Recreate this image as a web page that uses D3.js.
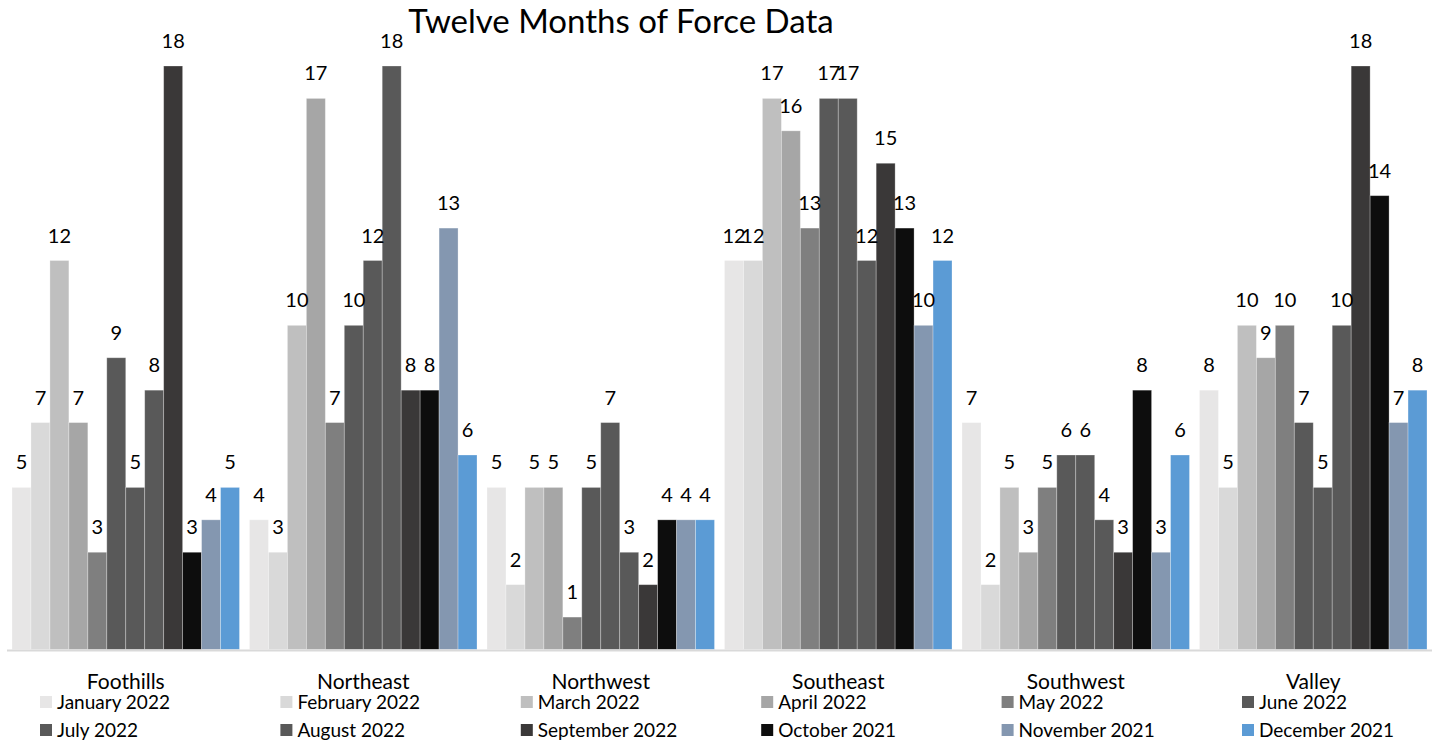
<!DOCTYPE html>
<html>
<head>
<meta charset="utf-8">
<script src="https://cdn.jsdelivr.net/npm/d3@7"></script>
<style>
  body { margin: 0; background: #fff; }
  text { font-family: Lato, "Open Sans", sans-serif; fill: #000; }
</style>
</head>
<body>
<svg id="chart" width="1434" height="744"></svg>
<script>
// chart data
var regions = ["Foothills", "Northeast", "Northwest", "Southeast", "Southwest", "Valley"];
var months = ["January 2022", "February 2022", "March 2022", "April 2022", "May 2022", "June 2022",
              "July 2022", "August 2022", "September 2022", "October 2021", "November 2021", "December 2021"];
var monthColors = ["#e7e6e6", "#d9d9d9", "#bfbfbf", "#a6a6a6", "#7f7f7f", "#595959",
                   "#595959", "#595959", "#3a3838", "#0d0d0d", "#8497b0", "#5b9bd5"];
// one row per region, one value per month (same order as months)
var foothills = [5, 7, 12, 7, 3, 9, 5, 8, 18, 3, 4, 5];
var northeast = [4, 3, 10, 17, 7, 10, 12, 18, 8, 8, 13, 6];
var northwest = [5, 2, 5, 5, 1, 5, 7, 3, 2, 4, 4, 4];
var southeast = [12, 12, 17, 16, 13, 17, 17, 12, 15, 13, 10, 12];
var southwest = [7, 2, 5, 3, 5, 6, 6, 4, 3, 8, 3, 6];
var valley = [8, 5, 10, 9, 10, 7, 5, 10, 18, 14, 7, 8];
var values = [foothills, northeast, northwest, southeast, southwest, valley];

var svg = d3.select("#chart");

var x0 = d3.scaleBand().domain(regions).range([7, 1432]).padding(0);
var x1 = d3.scaleBand().domain(months).range([5, x0.bandwidth() - 5]).padding(0);
var y = d3.scaleLinear().domain([0, 18]).range([649.5, 66]);
var color = d3.scaleOrdinal().domain(months).range(monthColors);

// title (sits a bit left of centre, like the original)
svg.append("text")
  .attr("x", 621)
  .attr("y", 33)
  .attr("text-anchor", "middle")
  .style("font-size", "33px")
  .text("Twelve Months of Force Data");

// bars
var groups = svg.selectAll("g.region")
  .data(regions)
  .enter().append("g")
  .attr("class", "region")
  .attr("transform", function(d) { return "translate(" + x0(d) + ",0)"; });

function rowOf(d, i) {
  return months.map(function(m, j) { return { month: m, value: values[i][j] }; });
}

groups.selectAll("rect")
  .data(rowOf)
  .enter().append("rect")
  .attr("x", function(d) { return x1(d.month); })
  .attr("y", function(d) { return y(d.value); })
  .attr("width", x1.bandwidth())
  .attr("height", function(d) { return y(0) - y(d.value); })
  .attr("fill", function(d) { return color(d.month); })
  .attr("stroke", "rgba(255,255,255,0.35)")
  .attr("stroke-width", 0.8);

// data labels
groups.selectAll("text.val")
  .data(rowOf)
  .enter().append("text")
  .attr("class", "val")
  .attr("x", function(d) { return x1(d.month) + x1.bandwidth() / 2; })
  .attr("y", function(d) { return y(d.value) - 18; })
  .attr("text-anchor", "middle")
  .style("font-size", "20px")
  .text(function(d) { return d.value; });

// category axis line
svg.append("line")
  .attr("x1", 7).attr("x2", 1432)
  .attr("y1", 650.5).attr("y2", 650.5)
  .attr("stroke", "#d9d9d9")
  .attr("stroke-width", 2);

// category labels
svg.selectAll("text.cat")
  .data(regions)
  .enter().append("text")
  .attr("class", "cat")
  .attr("x", function(d) { return x0(d) + x0.bandwidth() / 2; })
  .attr("y", 689)
  .attr("text-anchor", "middle")
  .style("font-size", "21px")
  .text(function(d) { return d; });

// legend, 6 columns x 2 rows
var legend = svg.selectAll("g.legend")
  .data(months)
  .enter().append("g")
  .attr("class", "legend")
  .attr("transform", function(d, i) {
    return "translate(" + (40 + (i % 6) * 240.4) + "," + (i < 6 ? 702 : 730) + ")";
  });

legend.append("rect")
  .attr("x", 0).attr("y", -6)
  .attr("width", 12).attr("height", 12)
  .attr("fill", function(d) { return color(d); });

legend.append("text")
  .attr("x", 17)
  .attr("y", 7)
  .style("font-size", "19px")
  .text(function(d) { return d; });
</script>
</body>
</html>
